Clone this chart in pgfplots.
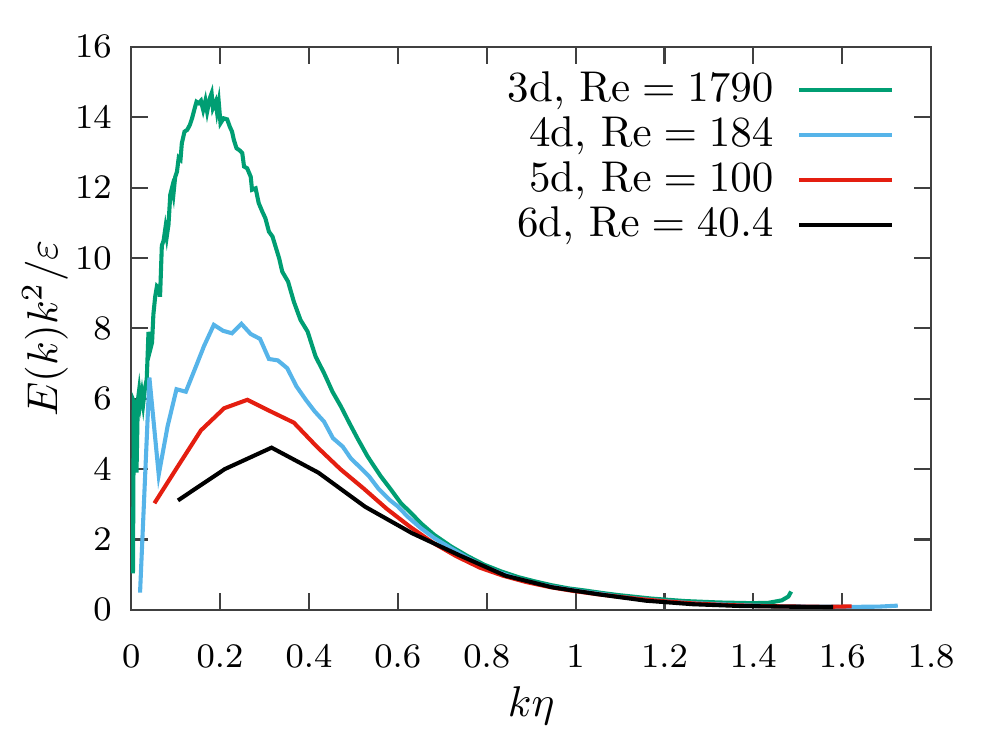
\documentclass[border=0pt]{standalone}
\usepackage{pgfplots}
\pgfplotsset{compat=1.18}
\definecolor{cthree}{RGB}{0,158,115}
\definecolor{cfour}{RGB}{86,180,233}
\definecolor{cfive}{RGB}{228,30,16}

\begin{document}
\begin{tikzpicture}
\begin{axis}[
  scale only axis,
  width            = 186pt,
  height           = 130.9pt,
  xmin=0, xmax=1.8,
  ymin=0, ymax=16,
  xtick            = {0,0.2,0.4,0.6,0.8,1,1.2,1.4,1.6,1.8},
  ytick            = {0,2,4,6,8,10,12,14,16},
  tick align       = inside,
  major tick length= 3.9pt,
  tick style       = {black!75, line width=0.5pt},
  axis line style  = {black!75, line width=0.6pt},
  ticklabel style  = {font=\footnotesize},
  xticklabel style = {yshift=-4.8pt},
  yticklabel style = {xshift=-1pt},
  xlabel           = {$k\eta$},
  ylabel           = {$E(k)k^2/\varepsilon$},
  xlabel style     = {at={(axis description cs:0.5,-0.1894)}, anchor=base},
  ylabel style     = {at={(axis description cs:-0.0925,0.5)}, anchor=base, rotate=0},
  legend style     = {draw=none, fill=none, at={(axis description cs:1,1)},
                      anchor=north east, xshift=-5.4pt, yshift=-2.6pt,
                      nodes={inner sep=1pt},
                      /tikz/every odd column/.append style={column sep=4.5pt}},
  legend cell align= right,
  legend plot pos  = right,
  legend image code/.code={\draw[#1] (0pt,0pt) -- (21.6pt,0pt);},
  every axis plot/.append style={line width=0.95pt},
]
% 3d
\addplot[cthree] table {
x y
0.004 1.04
0.006 5.92
0.010 5.80
0.012 3.90
0.015 5.95
0.018 6.25
0.021 5.90
0.024 6.15
0.027 5.85
0.031 6.30
0.035 6.55
0.039 7.90
0.043 7.40
0.047 7.60
0.050 8.40
0.054 8.90
0.058 9.20
0.062 9.15
0.065 8.90
0.069 10.35
0.073 10.50
0.077 10.85
0.080 10.60
0.084 10.95
0.088 11.80
0.092 12.00
0.095 11.80
0.099 12.30
0.103 12.45
0.107 12.85
0.111 12.80
0.114 13.26
0.120 13.59
0.126 13.64
0.132 13.78
0.137 13.97
0.142 14.21
0.147 14.44
0.152 14.40
0.157 14.47
0.162 14.21
0.167 14.47
0.171 14.16
0.177 14.54
0.181 14.68
0.184 14.26
0.190 14.44
0.193 14.16
0.197 14.44
0.201 13.83
0.208 13.97
0.216 13.94
0.222 13.73
0.227 13.59
0.231 13.36
0.237 13.12
0.245 13.05
0.250 12.98
0.254 12.60
0.261 12.55
0.269 12.31
0.272 11.94
0.280 11.98
0.287 11.56
0.295 11.32
0.302 11.13
0.310 10.75
0.318 10.61
0.325 10.32
0.333 9.99
0.340 9.61
0.353 9.33
0.366 8.76
0.381 8.24
0.397 7.91
0.415 7.20
0.434 6.73
0.453 6.20
0.472 5.78
0.491 5.31
0.509 4.88
0.532 4.36
0.562 3.79
0.585 3.41
0.607 3.03
0.630 2.75
0.652 2.46
0.682 2.13
0.720 1.80
0.758 1.52
0.795 1.28
0.833 1.09
0.871 0.93
0.908 0.81
0.946 0.70
0.984 0.61
1.021 0.55
1.059 0.48
1.096 0.42
1.171 0.32
1.246 0.25
1.322 0.21
1.397 0.19
1.434 0.20
1.464 0.27
1.479 0.38
1.485 0.52
};
\addlegendentry{3d, $\mathrm{Re}=1790$}
% 4d
\addplot[cfour] table {
x y
0.020 0.49
0.041 6.60
0.062 3.84
0.082 5.22
0.102 6.27
0.123 6.20
0.143 6.83
0.164 7.50
0.186 8.10
0.207 7.93
0.227 7.86
0.248 8.13
0.269 7.84
0.290 7.70
0.310 7.13
0.330 7.09
0.351 6.87
0.372 6.35
0.393 5.97
0.413 5.64
0.434 5.35
0.454 4.88
0.476 4.64
0.494 4.31
0.515 4.05
0.535 3.80
0.556 3.45
0.581 3.13
0.600 2.94
0.622 2.65
0.652 2.32
0.682 2.04
0.720 1.75
0.758 1.47
0.795 1.23
0.833 1.04
0.871 0.88
0.908 0.76
0.946 0.66
0.984 0.58
1.021 0.51
1.059 0.45
1.100 0.37
1.170 0.28
1.250 0.20
1.320 0.16
1.400 0.12
1.470 0.10
1.550 0.09
1.620 0.085
1.680 0.09
1.725 0.12
};
\addlegendentry{4d, $\mathrm{Re}=184$}
% 5d
\addplot[cfive] table {
x y
0.0523 3.03
0.1046 4.07
0.1569 5.10
0.2092 5.73
0.2615 5.97
0.3138 5.64
0.3661 5.32
0.4184 4.63
0.4707 4.00
0.5230 3.45
0.5753 2.87
0.6276 2.36
0.6799 1.90
0.7322 1.52
0.7845 1.20
0.8368 0.97
0.8891 0.79
0.9414 0.65
0.9937 0.54
1.0460 0.45
1.0983 0.37
1.1506 0.30
1.2029 0.24
1.2552 0.19
1.3075 0.155
1.3598 0.13
1.4121 0.11
1.4644 0.10
1.5167 0.09
1.5690 0.085
1.6213 0.10
};
\addlegendentry{5d, $\mathrm{Re}=100$}
% 6d
\addplot[black] table {
x y
0.1053 3.11
0.2106 4.00
0.3159 4.61
0.4212 3.90
0.5265 2.93
0.6318 2.18
0.7371 1.56
0.8424 0.97
0.9477 0.64
1.0530 0.44
1.1583 0.26
1.2636 0.16
1.3689 0.11
1.4742 0.09
1.5795 0.08
};
\addlegendentry{6d, $\mathrm{Re}=40.4$}
\end{axis}
\path ([xshift=-30.5pt,yshift=-30.2pt]current axis.south west)
  rectangle ([xshift=13pt,yshift=10.9pt]current axis.north east);
\end{tikzpicture}
\end{document}
